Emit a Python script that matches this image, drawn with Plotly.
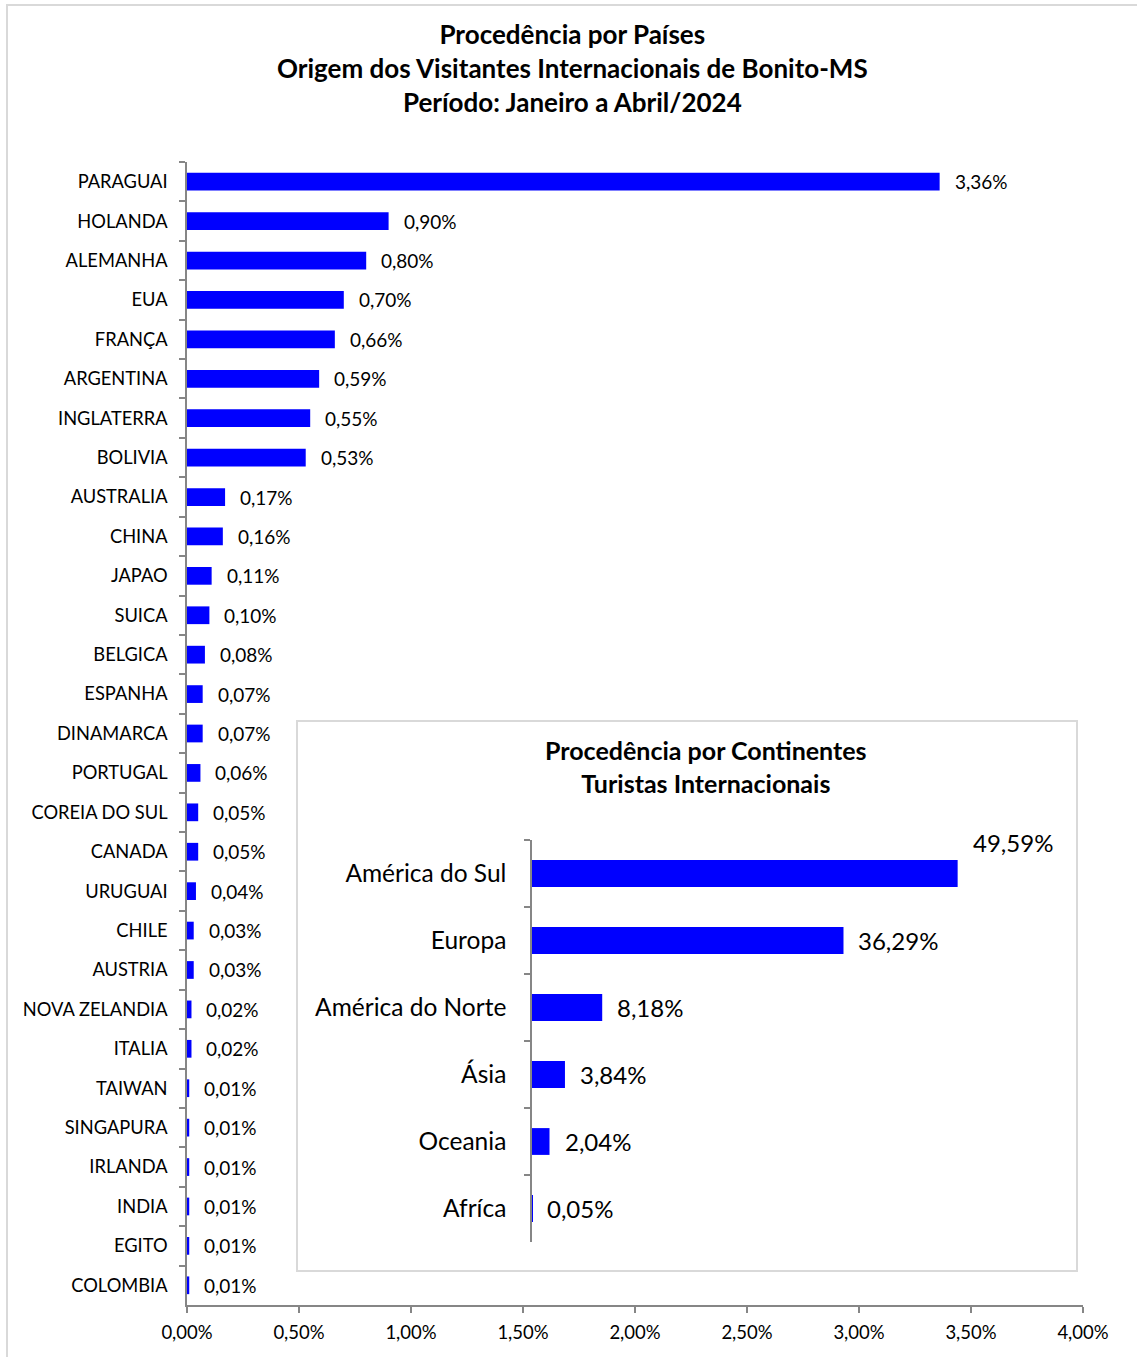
import plotly.graph_objects as go

countries = ["PARAGUAI", "HOLANDA", "ALEMANHA", "EUA", "FRANÇA", "ARGENTINA", "INGLATERRA",
             "BOLIVIA", "AUSTRALIA", "CHINA", "JAPAO", "SUICA", "BELGICA", "ESPANHA",
             "DINAMARCA", "PORTUGAL", "COREIA DO SUL", "CANADA", "URUGUAI", "CHILE",
             "AUSTRIA", "NOVA ZELANDIA", "ITALIA", "TAIWAN", "SINGAPURA", "IRLANDA",
             "INDIA", "EGITO", "COLOMBIA"]
country_pct = [3.36, 0.90, 0.80, 0.70, 0.66, 0.59, 0.55, 0.53, 0.17, 0.16, 0.11, 0.10,
               0.08, 0.07, 0.07, 0.06, 0.05, 0.05, 0.04, 0.03, 0.03, 0.02, 0.02, 0.01,
               0.01, 0.01, 0.01, 0.01, 0.01]

continents = ["América do Sul", "Europa", "América do Norte", "Ásia", "Oceania", "Afríca"]
continent_pct = [49.59, 36.29, 8.18, 3.84, 2.04, 0.05]

x_ticks = [0, 0.5, 1.0, 1.5, 2.0, 2.5, 3.0, 3.5, 4.0]

W, H = 1137, 1357
FONT = "Lato"
BLUE = "#0000FF"
AXC = "#868686"

def px(x):
    return x / W

def py(y):
    return 1 - y / H

def fmt(v):
    return f"{v:.2f}".replace(".", ",") + "%"

fig = go.Figure()

fig.add_trace(go.Bar(
    x=country_pct, y=countries, orientation="h", width=0.45,
    marker=dict(color=BLUE, line=dict(width=0)),
    xaxis="x", yaxis="y", hoverinfo="skip", showlegend=False,
))

fig.add_trace(go.Bar(
    x=continent_pct, y=continents, orientation="h", width=0.4,
    marker=dict(color=BLUE, line=dict(width=0)),
    xaxis="x2", yaxis="y2", hoverinfo="skip", showlegend=False,
))

annotations = []
for c, v in zip(countries, country_pct):
    annotations.append(dict(x=v, y=c, xref="x", yref="y", text=fmt(v), showarrow=False,
                            xanchor="left", xshift=13, font=dict(family=FONT, size=19, color="black")))
for i, (c, v) in enumerate(zip(continents, continent_pct)):
    annotations.append(dict(x=v, y=c, xref="x2", yref="y2", text=fmt(v), showarrow=False,
                            xanchor="left", xshift=13, yshift=31 if i == 0 else 0,
                            font=dict(family=FONT, size=24, color="black")))

annotations.append(dict(
    x=px(572), y=py(68), xref="paper", yref="paper", showarrow=False,
    text="<b>Procedência por Países</b><br><b>Origem dos Visitantes Internacionais de Bonito-MS</b><br><b>Período: Janeiro a Abril/2024</b>",
    font=dict(family=FONT, size=26, color="black"), align="center", xanchor="center", yanchor="middle"))
annotations.append(dict(
    x=px(706), y=py(767), xref="paper", yref="paper", showarrow=False,
    text="<b>Procedência por Continentes</b><br><b>Turistas Internacionais</b>",
    font=dict(family=FONT, size=25, color="black"), align="center", xanchor="center", yanchor="middle"))

shapes = [
    dict(type="rect", xref="paper", yref="paper", x0=px(7), x1=px(1160), y0=py(1380), y1=py(5),
         line=dict(color="#D9D9D9", width=2), fillcolor="rgba(0,0,0,0)", layer="below"),
    dict(type="rect", xref="paper", yref="paper", x0=px(297), x1=px(1077), y0=py(1271), y1=py(721),
         line=dict(color="#D9D9D9", width=2), fillcolor="white", layer="below"),
]

fig.update_layout(
    width=W, height=H, margin=dict(l=0, r=0, t=0, b=0, autoexpand=False),
    paper_bgcolor="white", plot_bgcolor="rgba(0,0,0,0)",
    font=dict(family=FONT, size=18.3, color="black"),
    xaxis=dict(domain=[px(187), px(1083)], range=[0, 4], tickmode="array", tickvals=x_ticks,
               ticktext=[fmt(v) for v in x_ticks], showgrid=False, zeroline=False,
               showline=True, linecolor=AXC, linewidth=1.5, ticks="outside", ticklen=6,
               tickcolor=AXC, tickwidth=1.5, tickfont=dict(family=FONT, size=18.5),
               ticklabelstandoff=4, anchor="y", automargin=False),
    yaxis=dict(domain=[py(1305), py(162)], autorange="reversed", type="category",
               showgrid=False, zeroline=False, showline=True, linecolor=AXC, linewidth=1.5,
               ticks="outside", ticklen=6, tickcolor=AXC, tickwidth=1.5, tickson="boundaries",
               ticklabelstandoff=14, tickfont=dict(family=FONT, size=18.3), anchor="x",
               automargin=False),
    xaxis2=dict(domain=[px(532), px(1047)], range=[0, 60], visible=False, anchor="y2",
                automargin=False),
    yaxis2=dict(domain=[py(1242), py(840)], autorange="reversed", type="category",
                showgrid=False, zeroline=False, showline=True, linecolor=AXC, linewidth=1.5,
                ticks="outside", ticklen=6, tickcolor=AXC, tickwidth=1.5, tickson="boundaries",
                ticklabelstandoff=19, tickfont=dict(family=FONT, size=24.5), anchor="x2",
                automargin=False),
    annotations=annotations, shapes=shapes,
)

fig.write_html("out.html", config={"displayModeBar": False},
               post_script="document.body.style.margin='0';")
